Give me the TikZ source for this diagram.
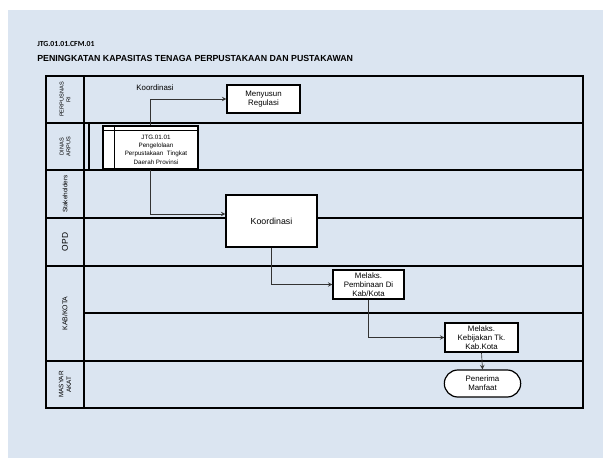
\documentclass[tikz,border=0pt]{standalone}
\usepackage{fontspec}
\setmainfont{Liberation Sans}
\newfontfamily\calibri{Carlito}
\usetikzlibrary{calc,arrows,shapes.misc}
\definecolor{lanebg}{HTML}{DBE5F1}

\begin{document}
\begin{tikzpicture}[x=0.75pt, y=-0.75pt, >=stealth,
    act/.style={draw, fill=white, line width=0.9pt, align=center,
      inner sep=1pt, font=\fontsize{5.9}{6.9}\selectfont},
    term/.style={act, rounded rectangle},
    flow/.style={->, line width=0.5pt, draw=black!80},
    lane/.style={line width=1pt},
    lbl/.style={rotate=90, align=center, font=\fontsize{4.2}{5}\selectfont}]

  \useasboundingbox (0,0) rectangle (603,458);
  \fill[lanebg] (8,10) rectangle (603,458);

  % title
  \node[anchor=west, inner sep=0pt, font=\calibri\bfseries\fontsize{5.8}{7}\selectfont]
    (T1) at (37,44) {JTG.01.01.CFM.01};
  \node[anchor=west, inner sep=0pt, font=\bfseries\fontsize{6.6}{7}\selectfont]
    (T2) at (37,58.5) {PENINGKATAN KAPASITAS TENAGA PERPUSTAKAAN DAN PUSTAKAWAN};

  % swimlanes
  \draw[lane] (46,76) rectangle (583,408);
  \draw[lane] (84,76) -- (84,408);
  \foreach \y in {123,170,218,266,361}
    \draw[lane] (46,\y) -- (583,\y);
  \draw[lane] (84,313) -- (583,313);
  \draw[lane] (89,123) -- (89,170);

  \node[lbl] (L1) at (65,99.5) {PERPUSNAS\\RI};
  \node[lbl] (L2) at (65,146.5) {DINAS\\ARPUS};
  \node[lbl, font=\fontsize{4.8}{5.5}\selectfont] (L3) at (65,194) {Stakeholders};
  \node[lbl, font=\fontsize{6.3}{7}\selectfont] (L4) at (65,242) {OPD};
  \node[lbl, font=\fontsize{5.2}{6}\selectfont] (L5) at (65,313.5) {KAB/KOTA};
  \node[lbl, font=\fontsize{4.8}{5.8}\selectfont] (L6) at (65,384.5) {MASYAR\\AKAT};

  % activities
  \node[act, minimum width=54.75pt, minimum height=21pt] (R) at (263.5,99) {Menyusun\\Regulasi};
  \node[act, minimum width=71.25pt, minimum height=32.25pt] (J) at (150.5,147.5) {};
  \draw[line width=0.9pt] ($(J.north west)+(12,0)$) -- ($(J.south west)+(12,0)$);
  \draw[line width=0.9pt] ($(J.north west)+(0,5)$) -- ($(J.north east)+(0,5)$);
  \node[align=center, inner sep=0pt, font=\fontsize{4.7}{6.2}\selectfont] (Jt) at (156,149.5)
    {JTG.01.01\\Pengelolaan\\Perpustakaan\ \ Tingkat\\Daerah\ Provinsi};
  \node[act, minimum width=68.25pt, minimum height=39pt, font=\fontsize{6.6}{7.5}\selectfont]
    (K) at (271.5,221) {Koordinasi};
  \node[act, minimum width=53.25pt, minimum height=21.75pt] (P) at (368.5,284.5)
    {Melaks.\\Pembinaan Di\\Kab/Kota};
  \node[act, minimum width=54.75pt, minimum height=21.75pt] (B) at (481.5,337.5)
    {Melaks.\\Kebijakan Tk.\\Kab.Kota};
  \node[term, minimum width=59.25pt, minimum height=20.25pt] (M) at (482.5,383.5)
    {Penerima\\Manfaat};

  \node[font=\fontsize{5.9}{7}\selectfont] (C) at (155,88) {Koordinasi};

  % flows
  \draw[flow] (J.north) |- (R.west);
  \draw[flow] (J.south) |- ([yshift=5.25pt]K.west);
  \draw[flow] (K.south) |- (P.west);
  \draw[flow] (P.south) |- (B.west);
  \draw[flow] (B.south) -- (M.north);
\end{tikzpicture}
\end{document}
